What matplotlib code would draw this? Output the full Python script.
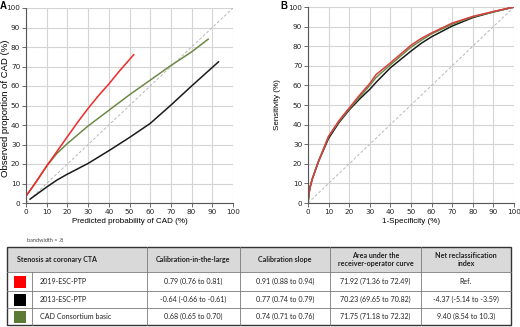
import matplotlib
matplotlib.use("Agg")
import matplotlib.pyplot as plt
from matplotlib.patches import Rectangle

# ---------------- data ----------------
# Panel A: calibration curves
cal_red_x = [0, 5, 10, 15, 20, 25, 30, 35, 40, 45, 52]
cal_red_y = [3.5, 11, 19, 26.5, 34, 41.5, 48.5, 55, 61, 67.5, 76]
cal_green_x = [0, 5, 10, 15, 20, 25, 30, 40, 50, 60, 70, 80, 88]
cal_green_y = [3.5, 11, 19, 25.5, 30.5, 35, 39.5, 47.5, 55.5, 63, 70.5, 77.5, 84]
cal_black_x = [2, 10, 15, 20, 30, 40, 50, 60, 70, 80, 93]
cal_black_y = [2, 8.2, 11.8, 14.8, 20.3, 26.8, 33.6, 40.8, 50.2, 60, 72.4]

# Panel B: ROC curves
roc_x = [0, 0.5, 1, 2, 5, 10, 15, 20, 25, 30, 33, 40, 50, 55, 60, 70, 80, 90, 100]
roc_red = [0, 5, 8, 12, 21, 34, 42, 48.5, 55, 61, 65.5, 71.5, 80.5, 84, 86.8, 91.8, 95.2, 97.7, 100]
roc_green = [0, 5, 8, 12, 21, 34, 41.5, 48, 54, 60, 64, 70.5, 79.5, 83, 86.3, 91.2, 95, 97.5, 100]
roc_black = [0, 5, 8, 12, 21, 33, 41, 47.5, 53, 58, 61.5, 69, 77.5, 81.5, 84.8, 90.3, 94.6, 97.5, 100]

ticks = list(range(0, 101, 10))

# Table
table_header = ["Stenosis at coronary CTA", "Calibration-in-the-large", "Calibration slope",
                "Area under the\nreceiver-operator curve", "Net reclassification\nindex"]
model_names = ["2019-ESC-PTP", "2013-ESC-PTP", "CAD Consortium basic"]
cal_large = ["0.79 (0.76 to 0.81)", "-0.64 (-0.66 to -0.61)", "0.68 (0.65 to 0.70)"]
cal_slope = ["0.91 (0.88 to 0.94)", "0.77 (0.74 to 0.79)", "0.74 (0.71 to 0.76)"]
auc_vals = ["71.92 (71.36 to 72.49)", "70.23 (69.65 to 70.82)", "71.75 (71.18 to 72.32)"]
nri_vals = ["Ref.", "-4.37 (-5.14 to -3.59)", "9.40 (8.54 to 10.3)"]

RED = "#f02828"
BLACK = "#1a1a1a"
GREEN = "#6b8a45"
box_colors = ["#ff0000", "#000000", "#5b7a34"]

W, H = 520, 327
fig = plt.figure(figsize=(W / 100, H / 100), dpi=100)

tick_font = ["DejaVu Sans"]
lab_font = ["Liberation Sans", "DejaVu Sans"]
tab_font = ["Lato", "DejaVu Sans"]


def px_axes(l, r, t, b):
    return fig.add_axes([l / W, 1 - b / H, (r - l) / W, (b - t) / H])


def style_axes(ax):
    ax.set_xlim(0, 100)
    ax.set_ylim(0, 100)
    ax.set_xticks(ticks)
    ax.set_yticks(ticks)
    ax.grid(True, color="#d4d4d4", linewidth=0.8)
    ax.set_axisbelow(True)
    for s in ["top", "right"]:
        ax.spines[s].set_visible(False)
    for s in ["left", "bottom"]:
        ax.spines[s].set_color("#555555")
        ax.spines[s].set_linewidth(0.8)
    ax.tick_params(length=3, width=0.6, color="#555555", labelsize=5.2, pad=1.2,
                   labelcolor="#222222")
    for lab in ax.get_xticklabels() + ax.get_yticklabels():
        lab.set_family(tick_font)
    ax.plot([0, 100], [0, 100], color="#b8b8b8", linestyle=(0, (3, 2)), linewidth=0.7)


# Panel A
axA = px_axes(26, 233, 8, 203)
style_axes(axA)
axA.plot(cal_black_x, cal_black_y, color=BLACK, linewidth=1.1)
axA.plot(cal_green_x, cal_green_y, color=GREEN, linewidth=1.1)
axA.plot(cal_red_x, cal_red_y, color=RED, linewidth=1.1)
axA.set_xlabel("Predicted probability of CAD (%)", fontsize=5.8, family=lab_font, labelpad=2)
fig.text(6 / W, 1 - 108 / H, "Observed proportion of CAD (%)", fontsize=6.8, family=lab_font,
         rotation=90, ha="center", va="center")

# Panel B
axB = px_axes(308, 514, 7, 203)
style_axes(axB)
axB.plot(roc_x, roc_black, color=BLACK, linewidth=1.1)
axB.plot(roc_x, roc_green, color=GREEN, linewidth=1.1)
axB.plot(roc_x, roc_red, color="#d84040", linewidth=1.1)
axB.set_xlabel("1-Specificity (%)", fontsize=5.8, family=lab_font, labelpad=2)
axB.set_ylabel("Sensitivity (%)", fontsize=5.8, family=lab_font, labelpad=5)

fig.text(0 / W, 1 - 6 / H, "A", fontsize=7, fontweight="bold", family=lab_font, va="center")
fig.text(280 / W, 1 - 6 / H, "B", fontsize=7, fontweight="bold", family=lab_font, va="center")

# Table (drawn in pixel coordinates)
tax = fig.add_axes([0, 0, 1, 1])
tax.set_xlim(0, W)
tax.set_ylim(H, 0)
tax.axis("off")
tax.text(27, 240, "bandwidth = .8", fontsize=4, family=tab_font, color="#444444", va="center")

col_x = [7, 32, 147, 240, 330, 421, 511]
row_y = [247, 272, 291, 308, 325]
tax.add_patch(Rectangle((col_x[0], row_y[0]), col_x[-1] - col_x[0], row_y[1] - row_y[0],
                        facecolor="#d9d9d9", edgecolor="none"))
line_c = "#7a7a7a"
for y in row_y[1:-1]:
    tax.plot([col_x[0], col_x[-1]], [y, y], color=line_c, linewidth=0.6)
for i, x in enumerate(col_x[1:-1]):
    y0 = row_y[1] if i == 0 else row_y[0]
    tax.plot([x, x], [y0, row_y[-1]], color=line_c, linewidth=0.6)
tax.add_patch(Rectangle((col_x[0], row_y[0]), col_x[-1] - col_x[0], row_y[-1] - row_y[0],
                        facecolor="none", edgecolor="#333333", linewidth=1.0))

fs = 5.1
hy = (row_y[0] + row_y[1]) / 2
tax.text(17, hy, table_header[0], fontsize=fs, fontweight="bold", family=tab_font,
         ha="left", va="center", color="#222222")
for j, h in enumerate(table_header[1:]):
    cx = (col_x[j + 2] + col_x[j + 3]) / 2
    tax.text(cx, hy, h, fontsize=fs, fontweight="bold", family=tab_font, ha="center",
             va="center", color="#222222", linespacing=1.1)

for i in range(3):
    cy = (row_y[i + 1] + row_y[i + 2]) / 2
    tax.add_patch(Rectangle((14, cy - 6), 12, 12, facecolor=box_colors[i], edgecolor="none"))
    tax.text(40, cy, model_names[i], fontsize=fs, family=tab_font, ha="left", va="center",
             color="#222222")
    for j, vals in enumerate([cal_large, cal_slope, auc_vals, nri_vals]):
        cx = (col_x[j + 2] + col_x[j + 3]) / 2
        tax.text(cx, cy, vals[i], fontsize=fs, family=tab_font, ha="center", va="center",
                 color="#222222")

fig.savefig("out.png", dpi=100)
